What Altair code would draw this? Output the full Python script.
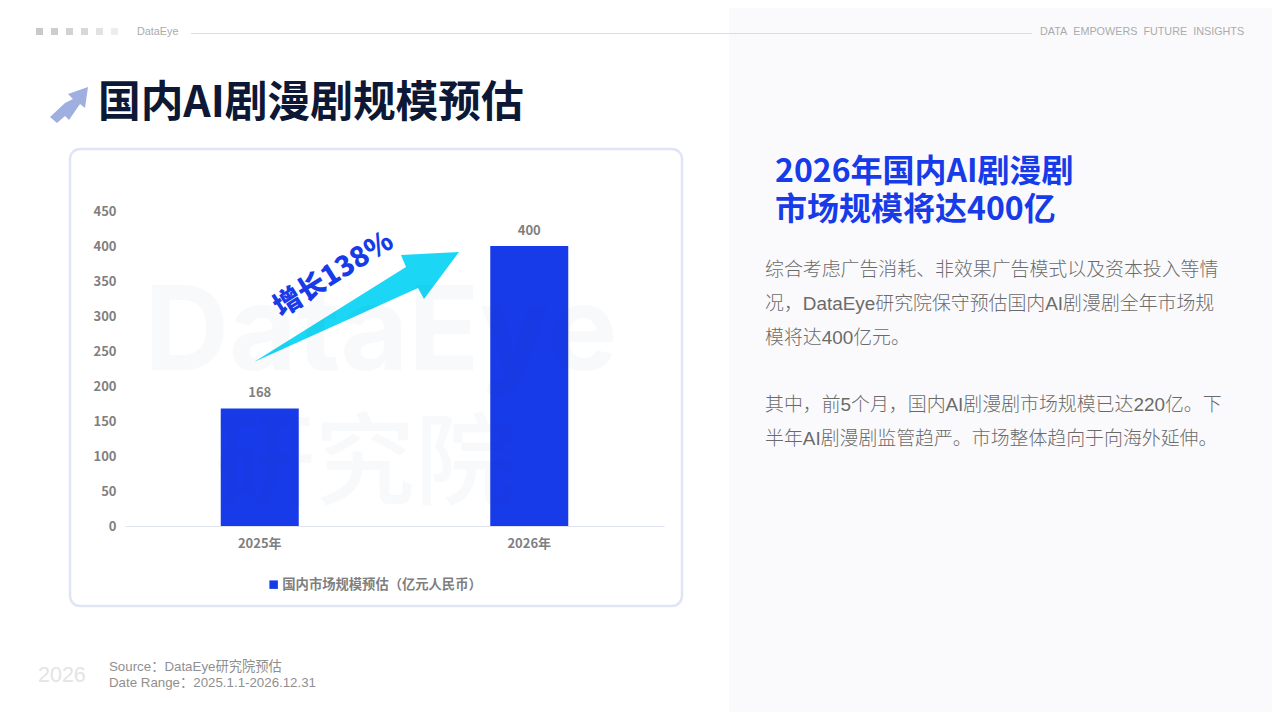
import altair as alt
import pandas as pd

years = ["2025年", "2026年"]
values = [168, 400]
series_name = "国内市场规模预估（亿元人民币）"
y_ticks = [0, 50, 100, 150, 200, 250, 300, 350, 400, 450]

BLUE = "#173be8"
GRAY = "#7f7f7f"
CJK = "Noto Sans CJK SC"
NB = "\u00a0\u00a0"

# plot area position on page
PX, PY, PW, PH = 125, 211, 539, 315
def fx(v): return v - PX
def fy(v): return v - PY

one = pd.DataFrame({"k": [0]})
df = pd.DataFrame({"year": years, "value": values, "series": [series_name] * 2})


def rect(x0, x1, y0, y1, **kw):
    return alt.Chart(one).mark_rect(**kw).encode(
        x=alt.value(fx(x0)), x2=alt.value(fx(x1)), y=alt.value(fy(y0)), y2=alt.value(fy(y1)))


def label(txt, x, y, **kw):
    kw.setdefault("align", "left")
    kw.setdefault("baseline", "alphabetic")
    kw.setdefault("font", CJK)
    return alt.Chart(one).mark_text(text=txt, **kw).encode(x=alt.value(fx(x)), y=alt.value(fy(y)))


def poly(points, fill, opacity=1.0):
    xs = [p[0] for p in points]
    ys = [p[1] for p in points]
    cx, cy = (min(xs) + max(xs)) / 2, (min(ys) + max(ys)) / 2
    r = max(max(xs) - min(xs), max(ys) - min(ys)) / 2
    path = "M" + " L".join(f"{(a - cx) / r:.4f},{(b - cy) / r:.4f}" for a, b in points) + " Z"
    return alt.Chart(one).mark_point(shape=path, filled=True, fill=fill, stroke=None, opacity=opacity,
                                     size=(2 * r) ** 2).encode(x=alt.value(fx(cx)), y=alt.value(fy(cy)))


layers = [
    rect(729, 1290, -10, 730, fill="#fafafd"),
    rect(70, 682, 149, 606, fill="transparent", stroke="#dfe5f5", strokeWidth=2.5, cornerRadius=10),
]

# header
for i, c in enumerate(["#c9c9c9", "#cdcdcd", "#d2d2d2", "#d8d8d8", "#e2e2e2", "#ededed"]):
    layers.append(rect(36 + 15 * i, 43 + 15 * i, 28, 35, fill=c))
layers += [
    label("DataEye", 137, 35, fontSize=10.8, color="#ababab", font="Liberation Sans"),
    rect(191, 1032, 33, 34, fill="#dcdcdc"),
    label(NB.join(["DATA", "EMPOWERS", "FUTURE", "INSIGHTS"]), 1040, 35, fontSize=10.8, color="#ababab", font="Liberation Sans"),
    poly([(88, 87), (68, 94), (73, 99), (65, 103), (50, 117), (57, 123), (65, 116), (69, 120), (80, 104), (85, 108)], "#9fb0e0"),
    label("国内AI剧漫剧规模预估", 98, 117, fontSize=42.7, fontWeight="bold", color="#0d1836"),
    label("2026年国内AI剧漫剧", 775, 182, fontSize=32, fontWeight="bold", color=BLUE),
    label("市场规模将达400亿", 775, 220, fontSize=32, fontWeight="bold", color=BLUE),
]
for txt, y in [
    ("综合考虑广告消耗、非效果广告模式以及资本投入等情", 276),
    ("况，DataEye研究院保守预估国内AI剧漫剧全年市场规", 310),
    ("模将达400亿元。", 344),
    ("其中，前5个月，国内AI剧漫剧市场规模已达220亿。下", 411),
    ("半年AI剧漫剧监管趋严。市场整体趋向于向海外延伸。", 445),
]:
    layers.append(label(txt, 765, y, fontSize=18.9, color="#6a6a6a", fontWeight=300,
                        font="Liberation Sans, Noto Sans CJK SC"))

# footer
layers += [
    label("2026", 38, 682, fontSize=21.5, color="#e4e4e4", font="Liberation Sans"),
    label("Source：DataEye研究院预估", 109, 671, fontSize=13.3, color="#8f8f8f", font="Liberation Sans, Noto Sans CJK SC"),
    label("Date Range：2025.1.1-2026.12.31", 109, 687, fontSize=13.3, color="#8f8f8f", font="Liberation Sans, Noto Sans CJK SC"),
]

# bars, through real scales and axes
x = alt.X("year:N", sort=years, title=None, scale=alt.Scale(paddingInner=0, paddingOuter=0),
          axis=alt.Axis(labelAngle=0, labelColor=GRAY, labelFont=CJK, labelFontWeight="bold", labelFontSize=13,
                        ticks=False, domainColor="#dfe3f0", domainWidth=1, labelPadding=11, grid=False))
y = alt.Y("value:Q", title=None, scale=alt.Scale(domain=[0, 450], nice=False),
          axis=alt.Axis(values=y_ticks, labelColor=GRAY, labelFont=CJK, labelFontWeight="bold", labelFontSize=13,
                        ticks=False, domain=False, grid=False, labelPadding=9, labelOverlap=False))
bars = alt.Chart(df).mark_bar(size=78).encode(
    x=x, y=y,
    color=alt.Color("series:N", scale=alt.Scale(range=[BLUE]),
                    legend=alt.Legend(orient="none", legendX=fx(267), legendY=fy(578), title=None,
                                      symbolType="square", symbolSize=72, symbolStrokeWidth=0, labelColor=GRAY,
                                      labelFont=CJK, labelFontWeight="bold", labelFontSize=13.3, labelLimit=300,
                                      labelOffset=2)),
)
vals = alt.Chart(df).mark_text(dy=-15, font=CJK, fontWeight="bold", fontSize=13, color=GRAY).encode(
    x=x, y=y, text="value:Q")
layers += [bars, vals]

# arrow, annotation and watermark
layers += [
    poly([(254, 362), (406, 267), (401, 255), (459, 252), (424, 299), (418, 288)], "#1bd6f4"),
    label("增长138%", 334, 275, fontSize=28, fontWeight=900, color=BLUE, angle=328, align="center", baseline="middle"),
    label("DataEye", 381, 370, fontSize=117, fontWeight=700, color="#1a2a6c", opacity=0.025, font="Inter", align="center"),
    label("研究院", 365, 497, fontSize=100, fontWeight=500, color="#1a2a6c", opacity=0.025, align="center"),
]

chart = alt.layer(*layers).resolve_scale(color="independent").properties(
    width=PW, height=PH,
    padding={"left": PX - 8, "top": PY - 8, "right": 1272 - PX - PW, "bottom": 712 - PY - PH},
    autosize=alt.AutoSizeParams(type="none"),
    background="#ffffff",
).configure_view(stroke=None)

chart.save("out.html", embed_options={"renderer": "svg", "actions": False})
